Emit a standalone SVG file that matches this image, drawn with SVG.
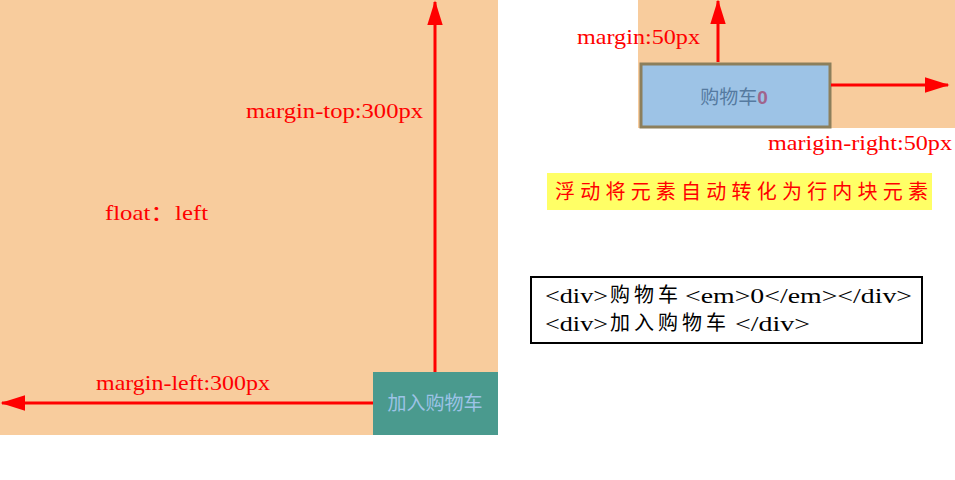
<svg xmlns="http://www.w3.org/2000/svg" width="955" height="480" viewBox="0 0 955 480">
<style>
.lbl{font-family:"Liberation Serif","Noto Sans CJK SC",serif;font-size:21px;fill:#ff0000}
.conn line{stroke:#ff0000;stroke-width:3}
.code{font-family:"Liberation Serif",serif;font-size:21px;fill:#000}
.cjk{font-family:"Noto Sans CJK SC",sans-serif;font-size:20px;fill:#000;letter-spacing:4px}
</style>
<defs>
<marker id="ah" viewBox="0 0 16 10" refX="15" refY="5" markerWidth="8.3" markerHeight="5.2" markerUnits="strokeWidth" orient="auto">
<path d="M0,0 L16,5 L0,10 z" fill="#ff0000"/>
</marker>
</defs>
<rect width="955" height="480" fill="#ffffff"/>
<g id="float-area">
<rect x="0" y="0" width="498" height="435" fill="#f8cc9d"/>
<text class="lbl" x="105" y="220" textLength="103" lengthAdjust="spacingAndGlyphs">float：left</text>
<text class="lbl" x="246" y="118" textLength="177" lengthAdjust="spacingAndGlyphs">margin-top:300px</text>
<text class="lbl" x="96" y="390" textLength="174" lengthAdjust="spacingAndGlyphs">margin-left:300px</text>
</g>
<g id="right-area">
<rect x="638" y="0" width="317" height="128" fill="#f8cc9d"/>
<text class="lbl" x="577" y="44" textLength="123" lengthAdjust="spacingAndGlyphs">margin:50px</text>
<text class="lbl" x="768" y="150" textLength="184" lengthAdjust="spacingAndGlyphs">marigin-right:50px</text>
</g>
<g id="cart">
<rect x="641" y="64" width="189" height="63" fill="#9dc3e6" stroke="#8c7f5c" stroke-width="3"/>
<text x="734" y="104" text-anchor="middle" font-family="Liberation Sans,'Noto Sans CJK SC',sans-serif" font-size="19" fill="#557aa0">购物车<tspan font-weight="bold" fill="#a0648c">0</tspan></text>
</g>
<g id="add-cart">
<rect x="373" y="372" width="125" height="63" fill="#4a9a8e"/>
<text x="435" y="410" text-anchor="middle" font-family="Liberation Sans,'Noto Sans CJK SC',sans-serif" font-size="19" fill="#9dc3e6">加入购物车</text>
</g>
<g id="note">
<rect x="547" y="173" width="385" height="37" fill="#ffff66"/>
<text x="555" y="199" font-family="'Noto Sans CJK SC',sans-serif" font-size="20" textLength="373" lengthAdjust="spacing" fill="#ff0000">浮动将元素自动转化为行内块元素</text>
</g>
<g id="code">
<rect x="531" y="277" width="391" height="66" fill="#ffffff" stroke="#000" stroke-width="2"/>
<text class="code" x="545" y="303" textLength="63" lengthAdjust="spacingAndGlyphs">&lt;div&gt;</text>
<text class="cjk" x="610" y="302">购物车</text>
<text class="code" x="685" y="303" textLength="227" lengthAdjust="spacingAndGlyphs">&lt;em&gt;0&lt;/em&gt;&lt;/div&gt;</text>
<text class="code" x="545" y="331" textLength="63" lengthAdjust="spacingAndGlyphs">&lt;div&gt;</text>
<text class="cjk" x="610" y="330">加入购物车</text>
<text class="code" x="735" y="331" textLength="75" lengthAdjust="spacingAndGlyphs">&lt;/div&gt;</text>
</g>
<g class="conn" id="connectors">
<line x1="435" y1="372" x2="435" y2="2" marker-end="url(#ah)"/>
<line x1="373" y1="403" x2="2" y2="403" marker-end="url(#ah)"/>
<line x1="718" y1="62" x2="718" y2="1" marker-end="url(#ah)"/>
<line x1="831" y1="85" x2="948" y2="85" marker-end="url(#ah)"/>
</g>
</svg>
